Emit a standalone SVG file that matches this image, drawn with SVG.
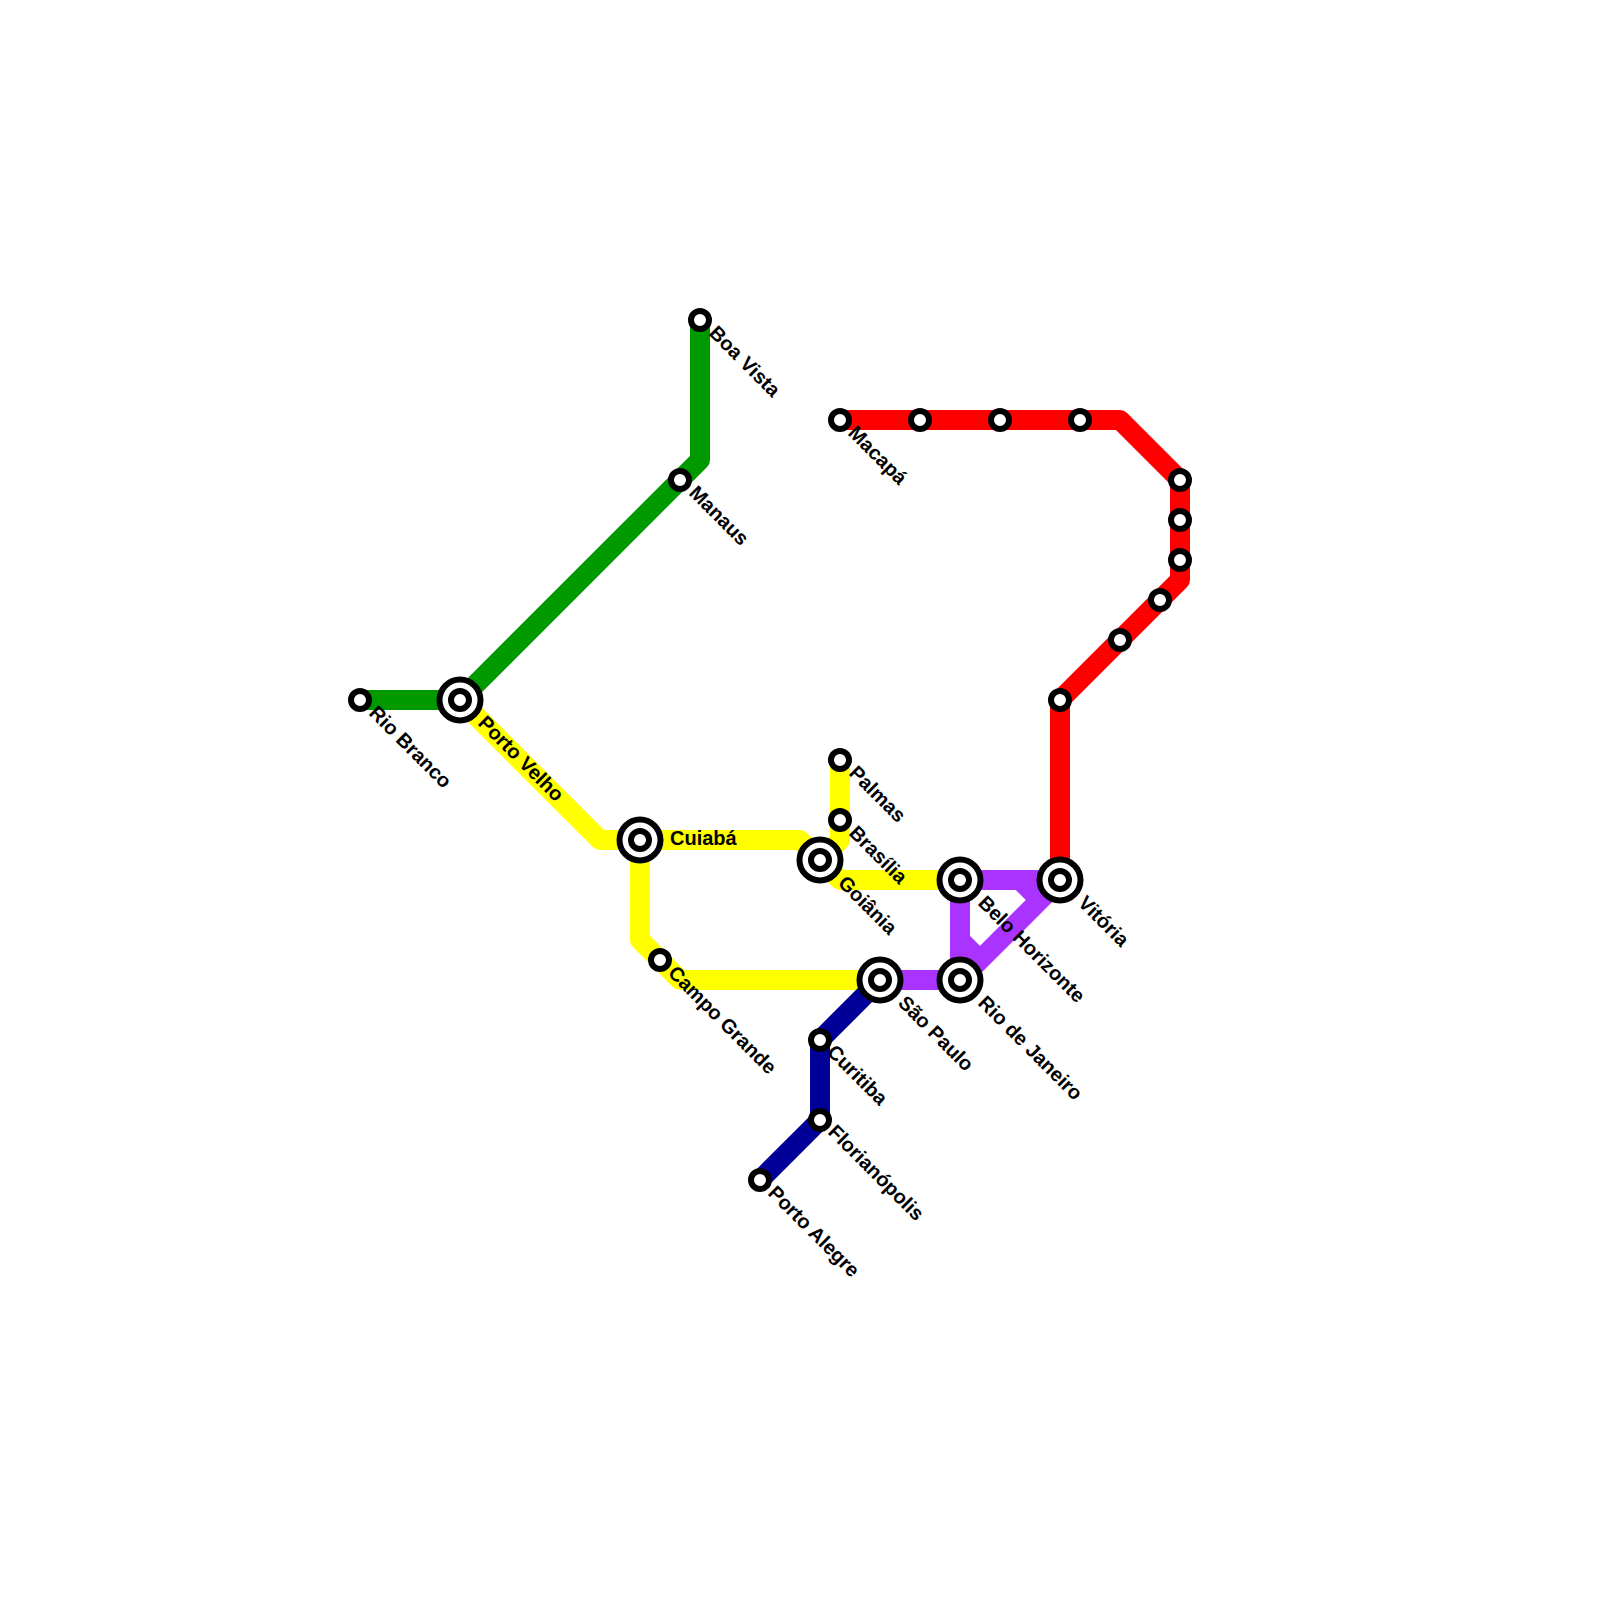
<svg xmlns="http://www.w3.org/2000/svg" width="1600" height="1600" viewBox="0 0 1600 1600">
<style>
.l{fill:none;stroke-width:20;stroke-linejoin:round}
.s{fill:#fff;stroke:#000;stroke-width:6}
text{font-family:"Liberation Sans",Arial,sans-serif;font-size:20px;font-weight:bold;fill:#000}
</style>
<defs>
<g id="st"><circle class="s" r="9"/></g>
<g id="ic"><circle class="s" r="20.5"/><circle class="s" r="9"/></g>
</defs>
<rect width="1600" height="1600" fill="#fff"/>
<g id="connectors">
<path class="l" stroke="#ffff00" d="M460 700L600 840H800L820 860M840 760V840L820 860L840 880H960M640 840V940L680 980H880"/>
<path class="l" stroke="#009900" d="M360 700H460L700 460V320"/>
<path class="l" stroke="#000099" d="M880 980L820 1040V1120L760 1180"/>
<path class="l" stroke="#aa33ff" d="M880 980H960L1060 880H960V980M960 940L980 960M1020 880L1040 900"/>
<path class="l" stroke="#ff0000" d="M840 420H1120L1180 480V580L1060 700V880"/>
</g>
<g id="rio-branco"><use href="#st" x="360" y="700"/><text transform="translate(368 714) rotate(45)">Rio Branco</text></g>
<g id="porto-velho"><use href="#ic" x="460" y="700"/><text transform="translate(477 724) rotate(45)">Porto Velho</text></g>
<g id="boa-vista"><use href="#st" x="700" y="320"/><text transform="translate(708 334) rotate(45)">Boa Vista</text></g>
<g id="manaus"><use href="#st" x="680" y="480"/><text transform="translate(688 494) rotate(45)">Manaus</text></g>
<g id="cuiaba"><use href="#ic" x="640" y="840"/><text x="670" y="845">Cuiabá</text></g>
<g id="campo-grande"><use href="#st" x="660" y="960"/><text transform="translate(667 974) rotate(45)">Campo Grande</text></g>
<g id="goiania"><use href="#ic" x="820" y="860"/><text transform="translate(837 884) rotate(45)">Goiânia</text></g>
<g id="palmas"><use href="#st" x="840" y="760"/><text transform="translate(848 774) rotate(45)">Palmas</text></g>
<g id="brasilia"><use href="#st" x="840" y="820"/><text transform="translate(848 834) rotate(45)">Brasília</text></g>
<g id="belo-horizonte"><use href="#ic" x="960" y="880"/><text transform="translate(977 904) rotate(45)">Belo Horizonte</text></g>
<g id="vitoria"><use href="#ic" x="1060" y="880"/><text transform="translate(1077 904) rotate(45)">Vitória</text></g>
<g id="sao-paulo"><use href="#ic" x="880" y="980"/><text transform="translate(897 1004) rotate(45)">São Paulo</text></g>
<g id="rio-de-janeiro"><use href="#ic" x="960" y="980"/><text transform="translate(977 1004) rotate(45)">Rio de Janeiro</text></g>
<g id="curitiba"><use href="#st" x="820" y="1040"/><text transform="translate(826 1053) rotate(45)">Curitiba</text></g>
<g id="florianopolis"><use href="#st" x="820" y="1120"/><text transform="translate(827 1133) rotate(45)">Florianópolis</text></g>
<g id="porto-alegre"><use href="#st" x="760" y="1180"/><text transform="translate(767 1194) rotate(45)">Porto Alegre</text></g>
<g id="macapa"><use href="#st" x="840" y="420"/><text transform="translate(847 434) rotate(45)">Macapá</text></g>
<g id="r1"><use href="#st" x="920" y="420"/></g>
<g id="r2"><use href="#st" x="1000" y="420"/></g>
<g id="r3"><use href="#st" x="1080" y="420"/></g>
<g id="r4"><use href="#st" x="1180" y="480"/></g>
<g id="r5"><use href="#st" x="1180" y="520"/></g>
<g id="r6"><use href="#st" x="1180" y="560"/></g>
<g id="r7"><use href="#st" x="1160" y="600"/></g>
<g id="r8"><use href="#st" x="1120" y="640"/></g>
<g id="r9"><use href="#st" x="1060" y="700"/></g>
</svg>
